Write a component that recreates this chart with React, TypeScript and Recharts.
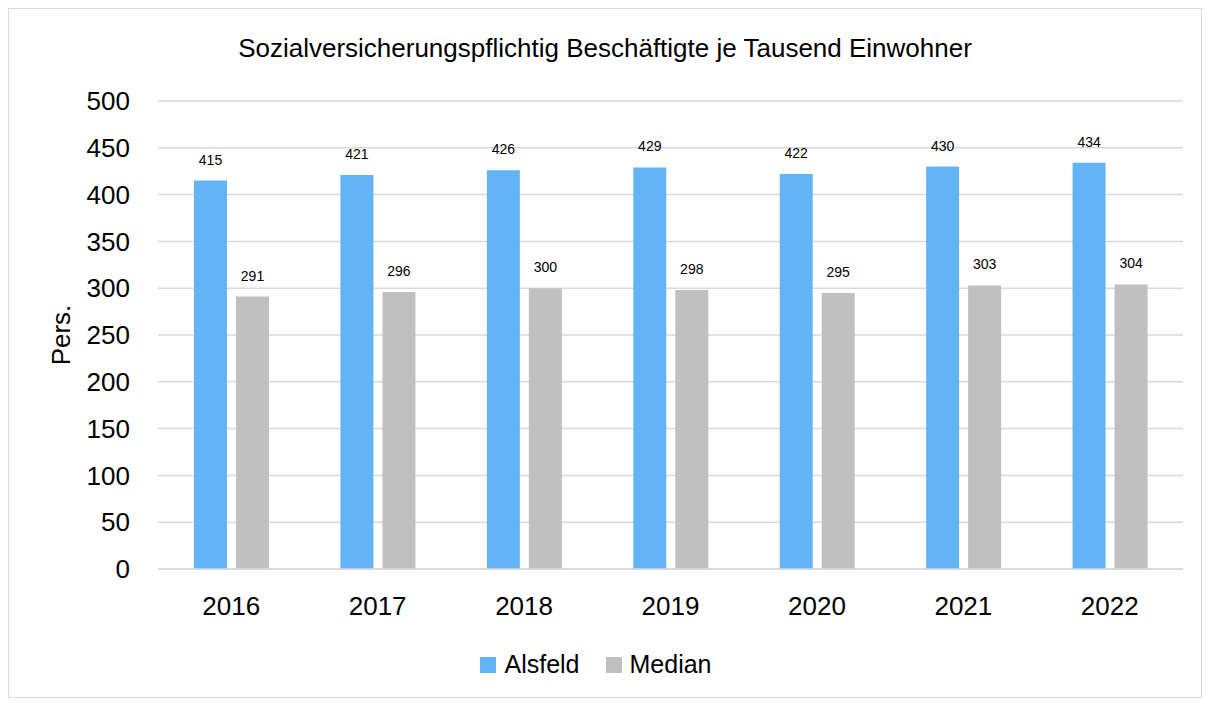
import React from 'react';
import { BarChart, Bar, XAxis, YAxis, CartesianGrid, Legend, LabelList } from 'recharts';

const years = ['2016', '2017', '2018', '2019', '2020', '2021', '2022'];
const alsfeld = [415, 421, 426, 429, 422, 430, 434];
const median = [291, 296, 300, 298, 295, 303, 304];
const yTicks = [0, 50, 100, 150, 200, 250, 300, 350, 400, 450, 500];

const data = years.map((year, i) => ({ year, Alsfeld: alsfeld[i], Median: median[i] }));

const FONT = '"Liberation Sans", Arial, sans-serif';

const seriesColors = [
  { name: 'Alsfeld', color: '#63b4f6' },
  { name: 'Median', color: '#c0c0c0' },
];

const renderLegend = () => (
  <div style={{ display: 'flex', justifyContent: 'center', alignItems: 'center', gap: 26 }}>
    {seriesColors.map((s) => (
      <div key={s.name} style={{ display: 'flex', alignItems: 'center' }}>
        <span style={{ width: 16, height: 16, background: s.color, display: 'inline-block', marginRight: 8 }} />
        <span style={{ fontSize: 25, color: '#000' }}>{s.name}</span>
      </div>
    ))}
  </div>
);

const App: React.FC = () => {
  return (
    <div
      style={{
        position: 'relative',
        width: 1192,
        height: 688,
        border: '1px solid #d9d9d9',
        fontFamily: FONT,
        background: '#fff',
      }}
    >
      <div
        style={{
          position: 'absolute',
          top: 24,
          left: 0,
          width: '100%',
          textAlign: 'center',
          fontSize: 26,
          color: '#000',
        }}
      >
        Sozialversicherungspflichtig Beschäftigte je Tausend Einwohner
      </div>
      <BarChart
        width={1192}
        height={688}
        data={data}
        margin={{ top: 92, right: 18, left: 0, bottom: 0 }}
        barSize={33}
        barGap={9}
        style={{ fontFamily: FONT }}
      >
        <CartesianGrid vertical={false} stroke="#d9d9d9" strokeWidth={1.5} />
        <XAxis
          dataKey="year"
          axisLine={{ stroke: '#d9d9d9', strokeWidth: 1.5 }}
          tickLine={false}
          tickMargin={22}
          height={99}
          tick={{ fill: '#000', fontSize: 26 }}
        />
        <YAxis
          domain={[0, 500]}
          ticks={yTicks}
          axisLine={false}
          tickLine={false}
          tickMargin={22}
          width={149}
          tick={{ fill: '#000', fontSize: 26 }}
          label={{ value: 'Pers.', angle: -90, position: 'insideLeft', offset: 52, style: { fill: '#000', fontSize: 26, textAnchor: 'middle' } }}
        />
        <Legend verticalAlign="bottom" content={renderLegend} wrapperStyle={{ bottom: 18 }} />
        <Bar dataKey="Alsfeld" fill="#63b4f6" isAnimationActive={false}>
          <LabelList dataKey="Alsfeld" position="top" offset={16} style={{ fill: '#000', fontSize: 14 }} />
        </Bar>
        <Bar dataKey="Median" fill="#c0c0c0" isAnimationActive={false}>
          <LabelList dataKey="Median" position="top" offset={16} style={{ fill: '#000', fontSize: 14 }} />
        </Bar>
      </BarChart>
    </div>
  );
};

export default App;
